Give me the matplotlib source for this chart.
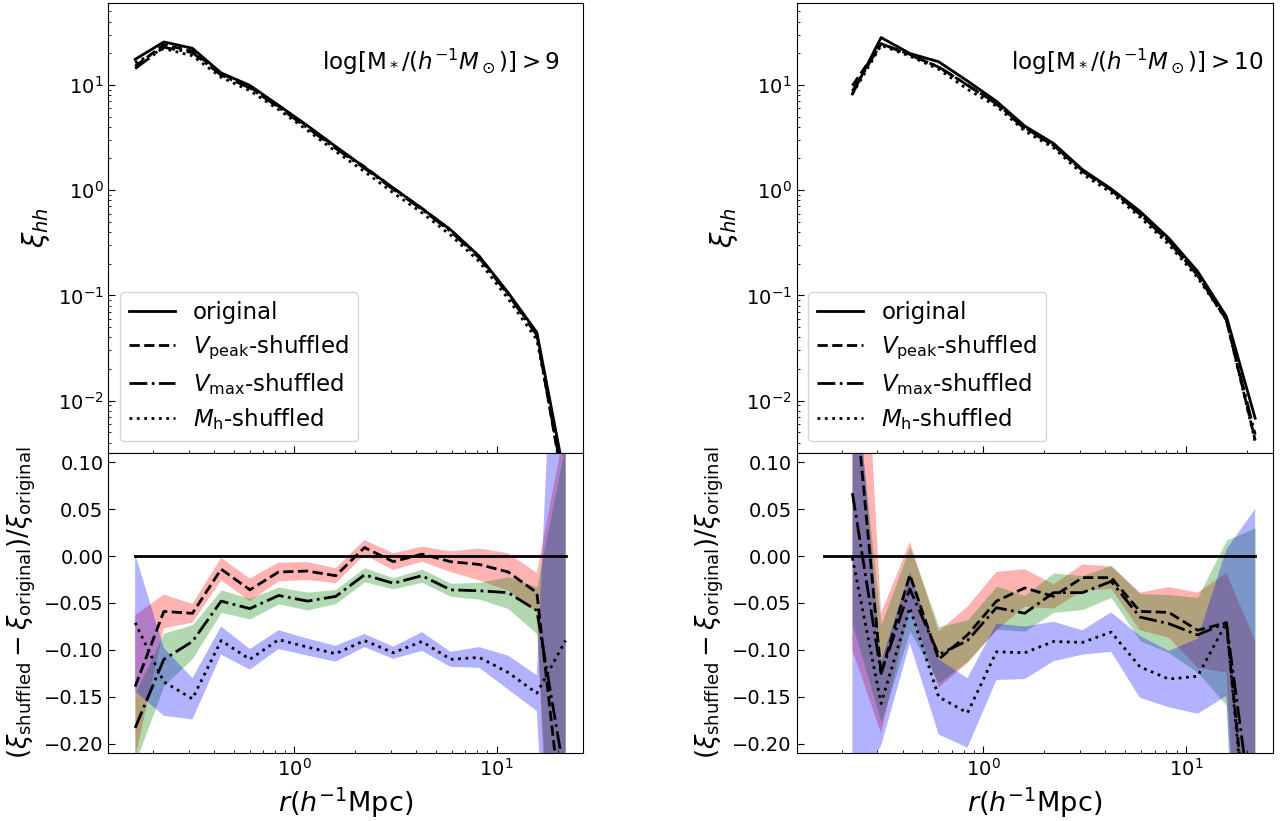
import numpy as np
import matplotlib
matplotlib.use('Agg')
import matplotlib.pyplot as plt

# bin centres r (h^-1 Mpc)
r = [0.163, 0.226, 0.313, 0.434, 0.602, 0.835, 1.16, 1.60, 2.22, 3.08,
     4.27, 5.92, 8.21, 11.4, 15.8, 21.9]

# log M* > 9 : xi_hh of original catalogue
xi_orig_9 = [17.5, 25.6, 22.3, 13.0, 9.9, 6.4, 4.1, 2.6, 1.65, 1.05,
             0.67, 0.42, 0.235, 0.106, 0.0445, 0.0017]
# fractional difference (shuffled - original)/original
vpeak_9 = [-0.139, -0.059, -0.061, -0.014, -0.036, -0.017, -0.016, -0.021, 0.009, -0.006,
           0.002, -0.006, -0.009, -0.017, -0.039, -0.31]
vmax_9 = [-0.183, -0.110, -0.091, -0.048, -0.056, -0.042, -0.048, -0.043, -0.020, -0.029,
          -0.021, -0.036, -0.037, -0.039, -0.058, -0.24]
mh_9 = [-0.071, -0.134, -0.152, -0.090, -0.110, -0.089, -0.097, -0.104, -0.090, -0.103,
        -0.091, -0.110, -0.108, -0.124, -0.146, -0.09]
vpeak_err_9 = [0.076, 0.018, 0.010, 0.012, 0.012, 0.010, 0.0095, 0.008, 0.008, 0.009,
               0.008, 0.011, 0.017, 0.020, 0.021, 0.45]
vmax_err_9 = [0.037, 0.028, 0.018, 0.012, 0.011, 0.009, 0.0095, 0.0075, 0.0075, 0.006,
              0.007, 0.007, 0.009, 0.017, 0.025, 0.36]
mh_err_9 = [0.073, 0.036, 0.022, 0.015, 0.011, 0.010, 0.009, 0.0085, 0.007, 0.0065,
            0.010, 0.008, 0.011, 0.018, 0.019, 0.64]

# log M* > 10 (no pair counts in the first bin)
xi_orig_10 = [np.nan, 8.2, 28.2, 19.9, 16.6, 10.9, 7.0, 4.07, 2.78, 1.57,
              1.03, 0.63, 0.35, 0.169, 0.063, 0.0068]
vpeak_10 = [np.nan, 0.20, -0.125, -0.02, -0.11, -0.084, -0.048, -0.034, -0.043, -0.023,
            -0.023, -0.059, -0.060, -0.079, -0.071, -0.38]
vmax_10 = [np.nan, 0.067, -0.125, -0.035, -0.105, -0.09, -0.055, -0.061, -0.039, -0.039,
           -0.027, -0.065, -0.072, -0.084, -0.071, -0.30]
mh_10 = [np.nan, -0.002, -0.157, -0.055, -0.15, -0.167, -0.102, -0.103, -0.091, -0.092,
         -0.081, -0.118, -0.131, -0.128, -0.071, -0.40]
vpeak_err_10 = [np.nan, 0.30, 0.064, 0.035, 0.03, 0.03, 0.031, 0.02, 0.013, 0.014,
                0.012, 0.02, 0.027, 0.04, 0.053, 0.29]
vmax_err_10 = [np.nan, 0.14, 0.052, 0.045, 0.03, 0.022, 0.023, 0.019, 0.021, 0.018,
               0.017, 0.025, 0.031, 0.04, 0.088, 0.33]
mh_err_10 = [np.nan, 0.25, 0.045, 0.038, 0.04, 0.037, 0.03, 0.028, 0.021, 0.013,
             0.021, 0.033, 0.03, 0.04, 0.078, 0.45]

labels = ['original', r'$V_{\rm peak}$-shuffled', r'$V_{\rm max}$-shuffled', r'$M_{\rm h}$-shuffled']
styles = ['-', '--', '-.', ':']
colors = ['red', 'green', 'blue']


def draw_panel(ax_top, ax_bot, xi_orig, ratios, errs, title):
    rr = np.array(r)
    xi_orig = np.array(xi_orig)

    # 上段: 相関関数
    ax_top.plot(rr, xi_orig, 'k' + styles[0], lw=2, label=labels[0])
    for ratio, ls, lab in zip(ratios, styles[1:], labels[1:]):
        ax_top.plot(rr, xi_orig * (1 + np.array(ratio)), color='k', ls=ls, lw=2, label=lab)
    ax_top.set_xscale('log')
    ax_top.set_yscale('log')
    ax_top.set_xlim(0.12, 26.8)
    ax_top.set_ylim(3.2e-3, 60)
    ax_top.set_ylabel(r'$\xi_{hh}$', fontsize=20)
    ax_top.tick_params(labelbottom=False)
    ax_top.legend(loc='lower left', fontsize=16.5, labelspacing=0.4)
    ax_top.text(0.45, 0.87, title, transform=ax_top.transAxes, fontsize=16.6,
                ha='left', va='center')

    # 下段: 比
    for ratio, err, c in zip(ratios, errs, colors):
        ratio = np.array(ratio)
        err = np.array(err)
        ax_bot.fill_between(rr, ratio - err, ratio + err, color=c, alpha=0.3, lw=0)
    ax_bot.plot(rr, np.zeros(len(rr)), 'k-', lw=2)
    for ratio, ls in zip(ratios, styles[1:]):
        ax_bot.plot(rr, ratio, color='k', ls=ls, lw=2)
    ax_bot.set_xscale('log')
    ax_bot.set_xlim(0.12, 26.8)
    ax_bot.set_ylim(-0.21, 0.11)
    ax_bot.set_yticks([-0.20, -0.15, -0.10, -0.05, 0.00, 0.05, 0.10])
    ax_bot.set_xlabel(r'$r(h^{-1}{\rm Mpc})$', fontsize=19.5)
    ax_bot.set_ylabel(r'$(\xi_{\rm shuffled}-\xi_{\rm original})/\xi_{\rm original}$', fontsize=18.5)

    for ax in (ax_top, ax_bot):
        ax.tick_params(which='both', direction='in', labelsize=14)
        ax.tick_params(which='major', length=5)
        ax.tick_params(which='minor', length=2.5)


if __name__ == '__main__':
    fig = plt.figure(figsize=(12.81, 8.21), dpi=100)

    ax1 = fig.add_axes([0.0845, 0.4486, 0.3708, 0.5477])
    ax2 = fig.add_axes([0.0845, 0.0825, 0.3708, 0.3661])
    ax3 = fig.add_axes([0.6219, 0.4486, 0.3718, 0.5477])
    ax4 = fig.add_axes([0.6219, 0.0825, 0.3718, 0.3661])

    draw_panel(ax1, ax2, xi_orig_9, [vpeak_9, vmax_9, mh_9],
               [vpeak_err_9, vmax_err_9, mh_err_9],
               r'$\log[{\rm M}_*/(h^{-1}M_\odot)]>9$')
    draw_panel(ax3, ax4, xi_orig_10, [vpeak_10, vmax_10, mh_10],
               [vpeak_err_10, vmax_err_10, mh_err_10],
               r'$\log[{\rm M}_*/(h^{-1}M_\odot)]>10$')

    fig.savefig('out.png', dpi=100)
